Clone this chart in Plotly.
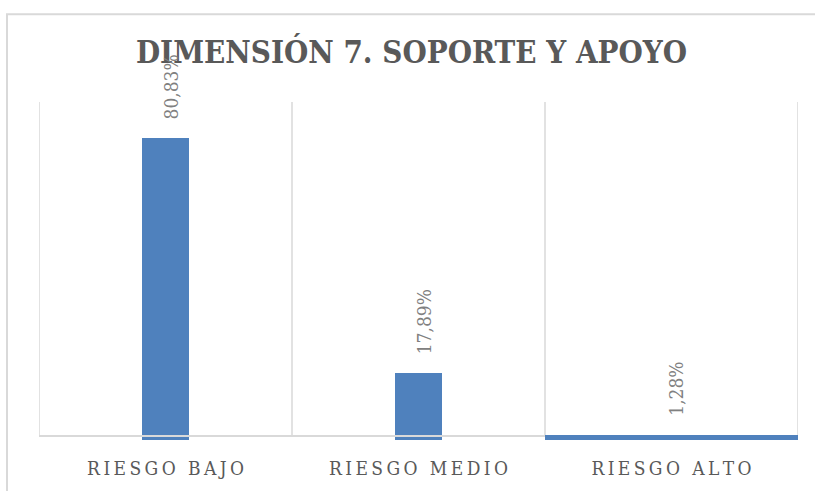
import plotly.graph_objects as go

categories = ["RIESGO BAJO", "RIESGO MEDIO", "RIESGO ALTO"]
values = [80.83, 17.89, 1.28]
value_labels = ["80,83%", "17,89%", "1,28%"]
bar_widths = [0.186, 0.186, 1.0]
title_text = "DIMENSIÓN 7. SOPORTE Y APOYO"

def spaced(s, sep="\u200a"):
    return sep.join(list(s))

BAR = "#4f81bd"
GRID = "#d9d9d9"
FONT = "DejaVu Serif Condensed"

x_idx = list(range(len(categories)))

fig = go.Figure()
fig.add_trace(go.Bar(
    x=x_idx, y=values, width=bar_widths,
    marker=dict(color=BAR, line=dict(width=0)),
    hoverinfo="skip", showlegend=False,
))

W, H = 815, 491
L, R, T, B = 39, 17, 102, 46
pw, ph = W - L - R, H - T - B
px_per_unit = 3.786
ymax = ph / px_per_unit

shapes = []
# outer container border
shapes.append(dict(type="rect", xref="paper", yref="paper",
                   x0=(7 - L) / pw, x1=(W + 20 - L) / pw,
                   y0=-(B + 20) / ph, y1=(H - B - 13) / ph,
                   line=dict(color=GRID, width=2), layer="below"))
axis_y = 4 / px_per_unit
# vertical gridlines at category boundaries
for k in range(len(categories) + 1):
    shapes.append(dict(type="line", xref="x", yref="y",
                       x0=k - 0.5, x1=k - 0.5, y0=axis_y, y1=ymax,
                       line=dict(color=GRID, width=1.5), layer="below"))
# baseline (drawn over the first two bars)
shapes.append(dict(type="line", xref="x", yref="y",
                   x0=-0.5, x1=len(categories) - 1.5, y0=axis_y, y1=axis_y,
                   line=dict(color=GRID, width=2), layer="above"))

annotations = []
for i, (v, t) in enumerate(zip(values, value_labels)):
    annotations.append(dict(x=i, y=v, xref="x", yref="y", text=t,
                            showarrow=False, textangle=-90,
                            yanchor="bottom", xanchor="center",
                            yshift=17, xshift=5,
                            font=dict(family=FONT, size=19, color="#808080")))

fig.update_layout(
    width=W, height=H,
    margin=dict(l=L, r=R, t=T, b=B, pad=0),
    paper_bgcolor="white", plot_bgcolor="white",
    title=dict(text="<b>" + title_text + "</b>",
               xref="container", yref="container",
               x=411.5 / W, y=1 - 52 / H, xanchor="center", yanchor="middle",
               font=dict(family=FONT, size=31, color="#595959")),
    xaxis=dict(range=[-0.5, len(categories) - 0.5], tickmode="array",
               tickvals=x_idx, ticktext=[spaced(c, "\u2009") for c in categories],
               showgrid=False, zeroline=False, showline=False, ticks="",
               ticklabelstandoff=15,
               tickfont=dict(family=FONT, size=19, color="#595959")),
    yaxis=dict(range=[0, ymax], visible=False, showgrid=False, zeroline=False),
    shapes=shapes, annotations=annotations,
    bargap=0,
)

fig.write_html("out.html", config={"displayModeBar": False},
               post_script="document.body.style.margin='0';")
